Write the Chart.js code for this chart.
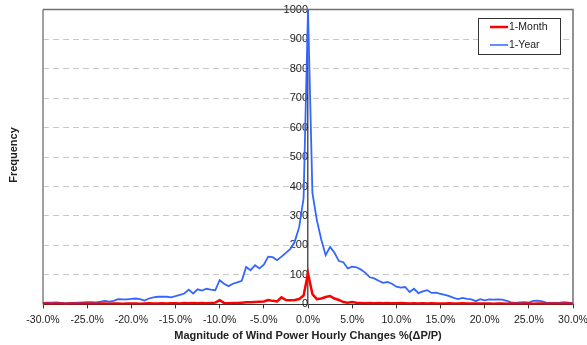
<!DOCTYPE html>
<html>
<head>
<meta charset="utf-8">
<script src="https://cdn.jsdelivr.net/npm/chart.js@4/dist/chart.umd.min.js"></script>
<style>
  html, body { margin: 0; padding: 0; background: #fff; }
  #wrap { width: 587px; height: 345px; }
</style>
</head>
<body>
<div id="wrap"><canvas id="chart"></canvas></div>
<script>
// x positions of the histogram bins, % change (-30% .. 30%, 0.5% steps)
const binPct = [];
for (let i = 0; i <= 120; i++) binPct.push(-30 + i * 0.5);

// 1-Month frequencies
const monthFreq = [
  3, 3, 2, 3, 3, 2, 3, 3, 2, 3,      // -30 .. -25.5
  3, 3, 2, 3, 3, 2, 3, 3, 2, 3,      // -25 .. -20.5
  3, 3, 2, 3, 4, 3, 3, 4, 3, 4,      // -20 .. -15.5
  4, 3, 5, 4, 5, 4, 5, 4, 5, 6,      // -15 .. -10.5
  14, 5, 4, 5, 5, 6, 7, 7, 8, 9,     // -10 .. -5.5
  10, 15, 12, 10, 24, 15, 14, 15, 18, 30, // -5 .. -0.5
  105,                               // 0
  35, 18, 20, 25, 28, 20, 15, 8, 6, 8,    // 0.5 .. 5
  6, 5, 4, 5, 4, 5, 4, 5, 4, 4,      // 5.5 .. 10
  5, 4, 3, 4, 3, 4, 3, 4, 3, 3,      // 10.5 .. 15
  3, 4, 3, 3, 4, 3, 3, 3, 3, 3,      // 15.5 .. 20
  3, 2, 3, 3, 2, 3, 3, 2, 3, 3,      // 20.5 .. 25
  2, 3, 3, 2, 3, 3, 2, 3, 3, 2       // 25.5 .. 30
];

// 1-Year frequencies
const yearFreq = [
  5, 6, 6, 7, 5, 3, 4, 5, 6, 7,          // -30 .. -25.5
  8, 8, 7, 9, 12, 9, 12, 18, 17, 17,     // -25 .. -20.5
  19, 20, 18, 13, 20, 24, 26, 26, 26, 24,// -20 .. -15.5
  28, 32, 37, 50, 37, 51, 47, 53, 50, 48,// -15 .. -10.5
  82, 70, 62, 70, 75, 80, 127, 116, 133, 122, // -10 .. -5.5
  135, 162, 160, 150, 162, 175, 188, 213, 262, 360, // -5 .. -0.5
  1000,                                   // 0
  378, 286, 220, 167, 195, 175, 147, 143, 122, 128, // 0.5 .. 5
  126, 118, 107, 92, 88, 80, 73, 76, 70, 60,        // 5.5 .. 10
  57, 59, 42, 53, 38, 44, 48, 39, 40, 36,           // 10.5 .. 15
  32, 28, 22, 18, 22, 19, 17, 11, 18, 14,           // 15.5 .. 20
  17, 16, 17, 16, 12, 7, 5, 7, 8, 6,                // 20.5 .. 25
  12, 13, 10, 6, 5, 5, 6, 8, 6, 3                   // 25.5 .. 30
];

const seriesNames = ['1-Month', '1-Year'];
const seriesColors = ['#ff0000', '#3366ff'];
const xTitle = 'Magnitude of Wind Power Hourly Changes %(ΔP/P)';
const yTitle = 'Frequency';

const FONT = '"Liberation Sans", Arial, sans-serif';

function toPoints(values) {
  return binPct.map((x, i) => ({ x: x, y: values[i] }));
}

// frame, axis titles and legend box drawn like the original spreadsheet chart
const framePlugin = {
  id: 'frame',
  beforeDatasetsDraw(chart) {
    const { ctx, chartArea: a } = chart;
    ctx.save();
    ctx.lineWidth = 2;
    ctx.strokeStyle = '#a0a0a0';
    ctx.beginPath();
    ctx.moveTo(a.left, a.top);
    ctx.lineTo(a.left, a.bottom);
    ctx.stroke();
    ctx.strokeStyle = '#707070';
    ctx.lineWidth = 1.5;
    ctx.beginPath();
    ctx.moveTo(a.left, a.top);
    ctx.lineTo(a.right, a.top);
    ctx.lineTo(a.right, a.bottom);
    ctx.stroke();
    ctx.restore();
  },
  afterDraw(chart) {
    const { ctx, chartArea: a } = chart;
    ctx.save();
    ctx.font = 'bold 11px ' + FONT;
    ctx.fillStyle = '#222';
    ctx.textAlign = 'center';
    ctx.textBaseline = 'middle';
    // x axis title
    ctx.fillText(xTitle, (a.left + a.right) / 2, 336);
    // y axis title
    ctx.translate(14, 155);
    ctx.rotate(-Math.PI / 2);
    ctx.fillText(yTitle, 0, 0);
    ctx.restore();

    // legend
    ctx.save();
    const bx = 478, by = 18, bw = 82, bh = 36;
    ctx.fillStyle = '#fff';
    ctx.fillRect(bx, by, bw, bh);
    ctx.strokeStyle = '#333';
    ctx.lineWidth = 1;
    ctx.strokeRect(bx + 0.5, by + 0.5, bw, bh);
    ctx.font = '10.5px ' + FONT;
    ctx.textBaseline = 'middle';
    chart.data.datasets.forEach((ds, i) => {
      const yy = by + 9 + i * 18;
      ctx.strokeStyle = ds.borderColor;
      ctx.lineWidth = i === 0 ? 2.5 : 1.5;
      ctx.beginPath();
      ctx.moveTo(bx + 12, yy);
      ctx.lineTo(bx + 30, yy);
      ctx.stroke();
      ctx.fillStyle = '#222';
      ctx.fillText(ds.label, bx + 31, yy);
    });
    ctx.restore();
  }
};

new Chart(document.getElementById('chart'), {
  type: 'line',
  data: {
    datasets: [
      {
        label: seriesNames[0],
        data: toPoints(monthFreq),
        borderColor: seriesColors[0],
        borderWidth: 2.5,
        pointRadius: 0,
        tension: 0
      },
      {
        label: seriesNames[1],
        data: toPoints(yearFreq),
        borderColor: seriesColors[1],
        borderWidth: 1.8,
        pointRadius: 0,
        tension: 0
      }
    ]
  },
  options: {
    responsive: true,
    maintainAspectRatio: false,
    animation: false,
    layout: { padding: { left: 43, right: 0, top: 4, bottom: 14 } },
    plugins: {
      legend: { display: false },
      tooltip: { enabled: false }
    },
    scales: {
      x: {
        type: 'linear',
        min: -30,
        max: 30,
        afterFit: s => { s.paddingRight = 14; },
        grid: {
          display: true,
          drawOnChartArea: false,
          drawTicks: true,
          tickLength: 4,
          color: '#333'
        },
        border: { color: '#333', width: 1 },
        ticks: {
          stepSize: 5,
          maxRotation: 0,
          padding: 5,
          color: '#222',
          font: { family: FONT, size: 10.5 },
          callback: v => v.toFixed(1) + '%'
        }
      },
      y: {
        position: { x: 0 },
        min: 0,
        max: 1000,
        grid: {
          color: ctx => (ctx.tick && ctx.tick.value > 0 && ctx.tick.value < 1000) ? '#c8c8c8' : 'rgba(0,0,0,0)',
          drawTicks: false
        },
        border: { color: '#555', width: 1.5, dash: [6, 4] },
        ticks: {
          stepSize: 100,
          padding: 3,
          color: '#222',
          font: { family: FONT, size: 11 },
          callback: v => String(v)
        }
      }
    }
  },
  plugins: [framePlugin]
});
</script>
</body>
</html>
